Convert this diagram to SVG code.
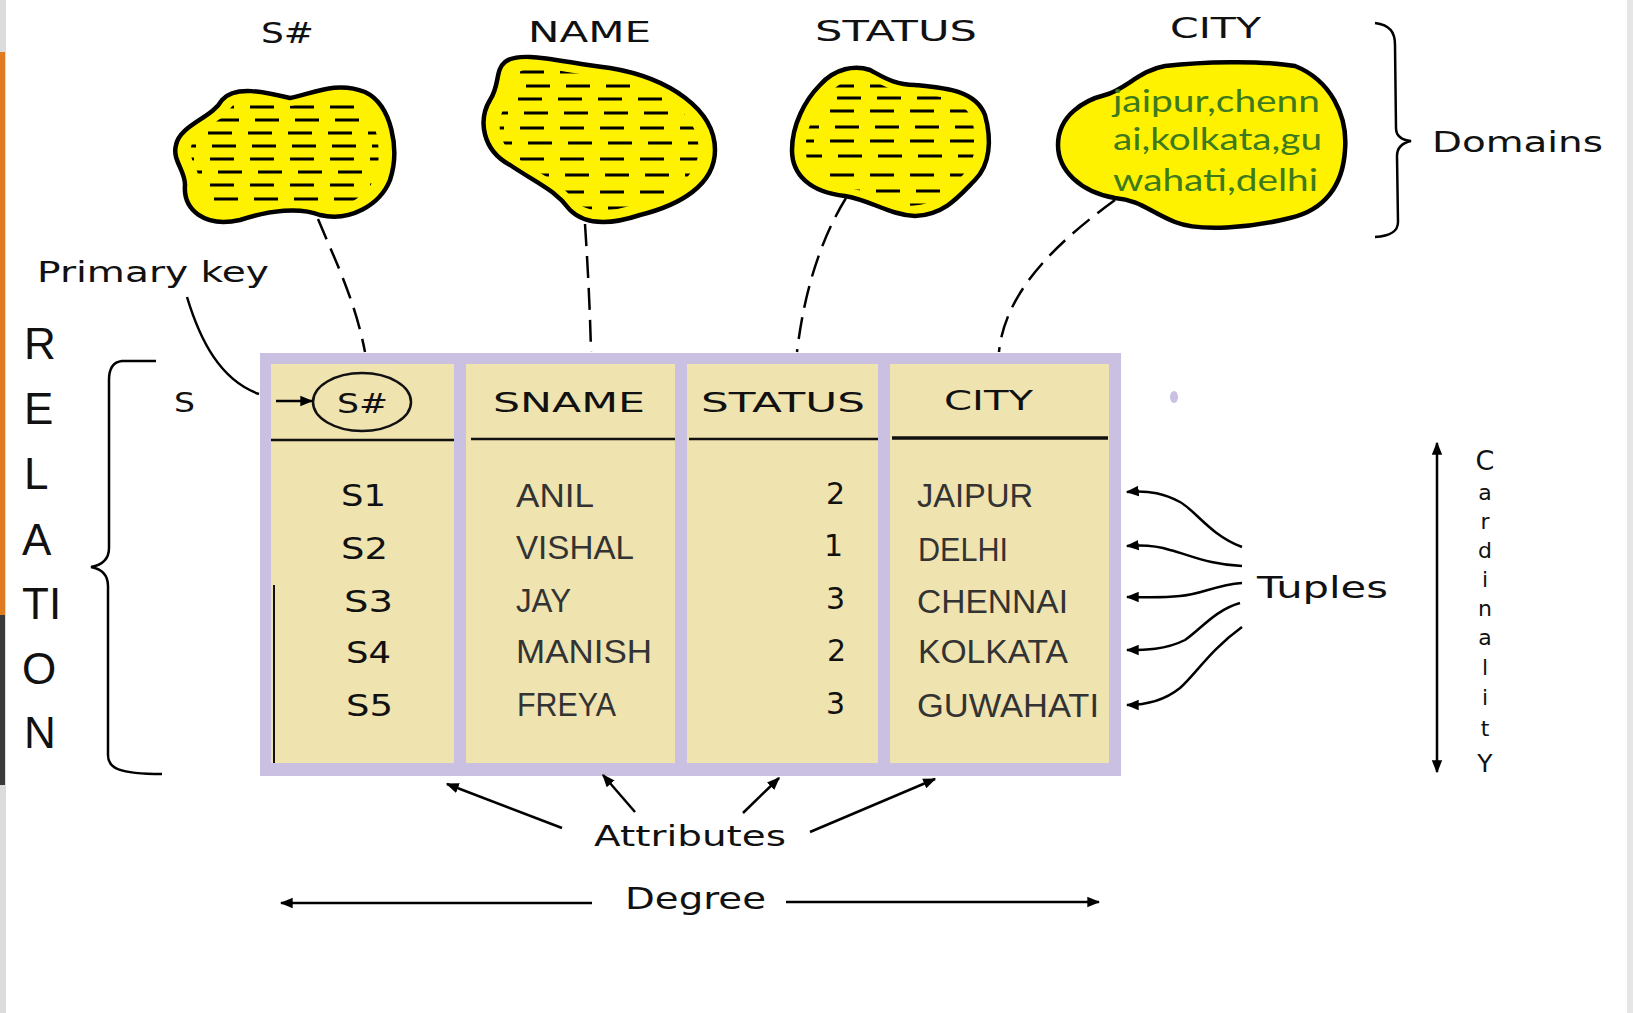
<svg xmlns="http://www.w3.org/2000/svg" width="1633" height="1013" viewBox="0 0 1633 1013">
<style>
.lbl{font-family:"DejaVu Sans","Liberation Sans",sans-serif;fill:#111;}
.val{font-family:"Liberation Sans",Arial,sans-serif;fill:#333;}
.rel{font-family:"Liberation Sans",Arial,sans-serif;fill:#111;font-size:44px;}
.blob{fill:#fff200;stroke:#000;stroke-width:4.5;stroke-linejoin:round;}
.hatch{stroke:#000;stroke-width:3;stroke-dasharray:24 16;fill:none;}
.dash{stroke:#000;stroke-width:2.5;fill:none;stroke-dasharray:22 10;}
.ln{stroke:#000;stroke-width:2.5;fill:none;}
.col{fill:#efe3b0;}
.hline{stroke:#111;stroke-width:2.5;}
</style>
<defs>
<marker id="ah" viewBox="0 0 10 10" refX="9" refY="5" markerWidth="13" markerHeight="13" markerUnits="userSpaceOnUse" orient="auto-start-reverse"><path d="M0,1 L10,5 L0,9 z" fill="#000"/></marker>
<path id="b1" d="M222,100 C235,85 265,92 290,98 C310,95 335,80 365,92 C392,105 400,150 390,180 C380,205 350,222 320,215 C300,207 270,210 240,220 C205,228 183,210 185,185 C185,170 172,160 176,145 C180,125 212,118 222,100 Z"/>
<path id="b2" d="M505,62 C520,50 560,62 610,68 C670,78 715,110 715,150 C715,185 680,205 640,215 C610,225 585,225 570,210 C555,190 540,185 510,165 C482,150 478,120 490,100 C500,85 495,70 505,62 Z"/>
<path id="b3" d="M820,85 C835,68 855,65 870,70 C885,78 895,85 915,85 C945,88 975,90 985,115 C992,140 990,165 975,180 C960,195 945,215 915,216 C890,215 870,200 845,196 C810,192 792,175 792,150 C792,125 805,100 820,85 Z"/>
<path id="b4" d="M1165,66 C1200,62 1260,60 1295,66 C1330,80 1348,115 1345,150 C1343,185 1325,210 1290,218 C1250,228 1200,232 1175,222 C1150,212 1140,200 1115,198 C1080,192 1058,170 1058,145 C1058,115 1085,100 1105,95 C1125,90 1140,70 1165,66 Z"/>
<clipPath id="c1"><use href="#b1" transform="translate(284,155) scale(0.86) translate(-284,-155)"/></clipPath>
<clipPath id="c2"><use href="#b2" transform="translate(598,140) scale(0.86) translate(-598,-140)"/></clipPath>
<clipPath id="c3"><use href="#b3" transform="translate(890,142) scale(0.86) translate(-890,-142)"/></clipPath>
</defs>
<rect width="1633" height="1013" fill="#fff"/>
<rect x="0" y="0" width="6" height="1013" fill="#dcdcdc"/>
<rect x="0" y="52" width="5" height="563" fill="#e07b20"/>
<rect x="0" y="615" width="5" height="170" fill="#3a3a3a"/>
<rect x="1627" y="0" width="6" height="1013" fill="#e6e6e6"/>

<g id="domain-labels">
<text class="lbl" x="261" y="43" font-size="28" textLength="53" lengthAdjust="spacingAndGlyphs">S#</text>
<text class="lbl" x="528" y="42" font-size="28" textLength="123" lengthAdjust="spacingAndGlyphs">NAME</text>
<text class="lbl" x="815" y="41" font-size="28" textLength="162" lengthAdjust="spacingAndGlyphs">STATUS</text>
<text class="lbl" x="1170" y="38" font-size="28" textLength="91" lengthAdjust="spacingAndGlyphs">CITY</text>
</g>

<g id="domain-sno">
<use href="#b1" class="blob"/>
<g clip-path="url(#c1)">
<path class="hatch" d="M170,107H400M175,120H400M168,133H400M172,146H400M170,159H400M178,172H400M170,185H400M174,199H400"/>
</g>
</g>
<g id="domain-name">
<use href="#b2" class="blob"/>
<g clip-path="url(#c2)">
<path class="hatch" d="M480,72H720M486,86H720M478,99H720M484,113H720M480,128H720M488,143H720M480,159H720M485,175H720M480,192H720M488,208H720"/>
</g>
</g>
<g id="domain-status">
<use href="#b3" class="blob"/>
<g clip-path="url(#c3)">
<path class="hatch" d="M790,86H995M797,98H995M790,111H995M795,127H995M790,141H995M798,156H995M790,175H995M796,191H995M790,205H995"/>
</g>
</g>
<g id="domain-city">
<use href="#b4" class="blob"/>
<text x="1113" y="112" font-family="Lato,'Liberation Sans',sans-serif" font-size="30" fill="#3d7a1e" textLength="207" lengthAdjust="spacingAndGlyphs">jaipur,chenn</text>
<text x="1113" y="150" font-family="Lato,'Liberation Sans',sans-serif" font-size="30" fill="#3d7a1e" textLength="209" lengthAdjust="spacingAndGlyphs">ai,kolkata,gu</text>
<text x="1113" y="191" font-family="Lato,'Liberation Sans',sans-serif" font-size="30" fill="#3d7a1e" textLength="205" lengthAdjust="spacingAndGlyphs">wahati,delhi</text>
</g>

<g id="domains-brace">
<path class="ln" d="M1375,23 C1390,25 1395,32 1395,45 L1396,128 C1396,136 1402,140 1411,141 C1402,143 1397,147 1397,156 L1398,222 C1398,232 1390,236 1375,237"/>
<text class="lbl" x="1432" y="152" font-size="28" textLength="171" lengthAdjust="spacingAndGlyphs">Domains</text>
</g>

<g id="relation-label">
<text class="rel" x="24" y="359">R</text>
<text class="rel" x="24" y="424">E</text>
<text class="rel" x="24" y="489">L</text>
<text class="rel" x="22" y="555">A</text>
<text class="rel" x="22" y="619">TI</text>
<text class="rel" x="22" y="684">O</text>
<text class="rel" x="24" y="748">N</text>
</g>
<g id="relation-brace">
<path class="ln" d="M156,361 L122,361 C113,362 109,368 109,380 L109,548 C109,560 102,565 91,567 C102,569 108,575 108,586 L108,755 C108,768 118,774 162,774"/>
<text class="lbl" x="174" y="412" font-size="26" textLength="21" lengthAdjust="spacingAndGlyphs">S</text>
</g>

<g id="primary-key">
<text class="lbl" x="37" y="282" font-size="28" textLength="232" lengthAdjust="spacingAndGlyphs">Primary key</text>
</g>

<g id="table">
<rect x="260" y="353" width="861" height="423" fill="#c9c0e2"/>
<rect class="col" x="271" y="364" width="183" height="399"/>
<rect class="col" x="466" y="364" width="209" height="399"/>
<rect class="col" x="687" y="364" width="191" height="399"/>
<rect class="col" x="890" y="364" width="219" height="399"/>
<line class="hline" x1="271" y1="440" x2="454" y2="440"/>
<line class="hline" x1="471" y1="439" x2="675" y2="439"/>
<line class="hline" x1="689" y1="439" x2="878" y2="439"/>
<line x1="892" y1="438" x2="1108" y2="438" stroke="#111" stroke-width="3.5"/>
<line x1="274" y1="585" x2="274" y2="763" stroke="#111" stroke-width="2"/>
<ellipse cx="362" cy="402" rx="49" ry="29" fill="none" stroke="#111" stroke-width="2.5"/>
<text class="lbl" x="337" y="413" font-size="27" textLength="51" lengthAdjust="spacingAndGlyphs">S#</text>
<text class="lbl" x="493" y="412" font-size="27" textLength="152" lengthAdjust="spacingAndGlyphs">SNAME</text>
<text class="lbl" x="701" y="412" font-size="27" textLength="164" lengthAdjust="spacingAndGlyphs">STATUS</text>
<text class="lbl" x="944" y="410" font-size="27" textLength="89" lengthAdjust="spacingAndGlyphs">CITY</text>
<g class="lbl" font-size="30">
<text x="341" y="506" textLength="45" lengthAdjust="spacingAndGlyphs">S1</text>
<text x="341" y="559" textLength="47" lengthAdjust="spacingAndGlyphs">S2</text>
<text x="344" y="612" textLength="49" lengthAdjust="spacingAndGlyphs">S3</text>
<text x="346" y="663" textLength="45" lengthAdjust="spacingAndGlyphs">S4</text>
<text x="346" y="716" textLength="47" lengthAdjust="spacingAndGlyphs">S5</text>
</g>
<g class="lbl" font-size="30" text-anchor="end">
<text x="845" y="504">2</text>
<text x="843" y="556">1</text>
<text x="845" y="609">3</text>
<text x="846" y="661">2</text>
<text x="845" y="714">3</text>
</g>
<g class="val" font-size="34">
<text x="516" y="507" textLength="78" lengthAdjust="spacingAndGlyphs">ANIL</text>
<text x="516" y="559" textLength="118" lengthAdjust="spacingAndGlyphs">VISHAL</text>
<text x="516" y="612" textLength="55" lengthAdjust="spacingAndGlyphs">JAY</text>
<text x="516" y="663" textLength="136" lengthAdjust="spacingAndGlyphs">MANISH</text>
<text x="517" y="716" textLength="99" lengthAdjust="spacingAndGlyphs">FREYA</text>
<text x="917" y="507" textLength="116" lengthAdjust="spacingAndGlyphs">JAIPUR</text>
<text x="918" y="561" textLength="90" lengthAdjust="spacingAndGlyphs">DELHI</text>
<text x="917" y="613" textLength="151" lengthAdjust="spacingAndGlyphs">CHENNAI</text>
<text x="918" y="663" textLength="150" lengthAdjust="spacingAndGlyphs">KOLKATA</text>
<text x="917" y="717" textLength="182" lengthAdjust="spacingAndGlyphs">GUWAHATI</text>
</g>
</g>
<ellipse cx="1174" cy="397" rx="4" ry="6" fill="#c9c0e2"/>

<g id="tuples-label">
<text class="lbl" x="1257" y="598" font-size="31" textLength="131" lengthAdjust="spacingAndGlyphs">Tuples</text>
</g>
<g id="cardinality-label">
<text class="lbl" font-size="22" text-anchor="middle"><tspan x="1485" y="470" font-size="27">C</tspan><tspan x="1485" y="500">a</tspan><tspan x="1485" y="529">r</tspan><tspan x="1485" y="558">d</tspan><tspan x="1485" y="587">i</tspan><tspan x="1485" y="616">n</tspan><tspan x="1485" y="645">a</tspan><tspan x="1485" y="675">l</tspan><tspan x="1485" y="705">i</tspan><tspan x="1485" y="736">t</tspan><tspan x="1485" y="772" font-size="25">Y</tspan></text>
</g>
<g id="attributes-label">
<text class="lbl" x="594" y="846" font-size="29" textLength="192" lengthAdjust="spacingAndGlyphs">Attributes</text>
</g>
<g id="degree-label">
<text class="lbl" x="625" y="909" font-size="30" textLength="141" lengthAdjust="spacingAndGlyphs">Degree</text>
</g>

<g id="connectors">
<path class="dash" d="M318,219 C335,260 355,300 365,352"/>
<path class="dash" d="M585,224 C588,270 590,310 591,352"/>
<path class="dash" d="M846,198 Q808,260 797,352"/>
<path class="dash" d="M1115,200 C1060,240 1005,290 999,352"/>
<path class="ln" d="M187,297 C200,340 220,380 259,394"/>
<line class="ln" x1="276" y1="401" x2="312" y2="401" marker-end="url(#ah)"/>
<path class="ln" d="M1242,547 C1210,535 1195,510 1180,502 C1165,494 1150,490 1127,492" marker-end="url(#ah)"/>
<path class="ln" d="M1242,566 C1210,565 1190,555 1170,550 C1155,545 1140,545 1127,546" marker-end="url(#ah)"/>
<path class="ln" d="M1242,583 C1215,585 1200,595 1180,596 C1160,598 1145,597 1127,597" marker-end="url(#ah)"/>
<path class="ln" d="M1240,603 C1215,610 1200,630 1185,640 C1165,650 1145,650 1127,650" marker-end="url(#ah)"/>
<path class="ln" d="M1242,627 C1210,650 1195,675 1180,688 C1165,700 1145,705 1127,705" marker-end="url(#ah)"/>
<line class="ln" x1="1437" y1="443" x2="1437" y2="772" marker-start="url(#ah)" marker-end="url(#ah)"/>
<line class="ln" x1="562" y1="828" x2="447" y2="784" stroke-width="3" marker-end="url(#ah)"/>
<line class="ln" x1="635" y1="812" x2="603" y2="775" stroke-width="3" marker-end="url(#ah)"/>
<line class="ln" x1="743" y1="813" x2="779" y2="778" stroke-width="3" marker-end="url(#ah)"/>
<line class="ln" x1="810" y1="832" x2="935" y2="779" stroke-width="3" marker-end="url(#ah)"/>
<line class="ln" x1="592" y1="903" x2="281" y2="903" stroke-width="3" marker-end="url(#ah)"/>
<line class="ln" x1="786" y1="902" x2="1099" y2="902" stroke-width="3" marker-end="url(#ah)"/>
</g>
</svg>
